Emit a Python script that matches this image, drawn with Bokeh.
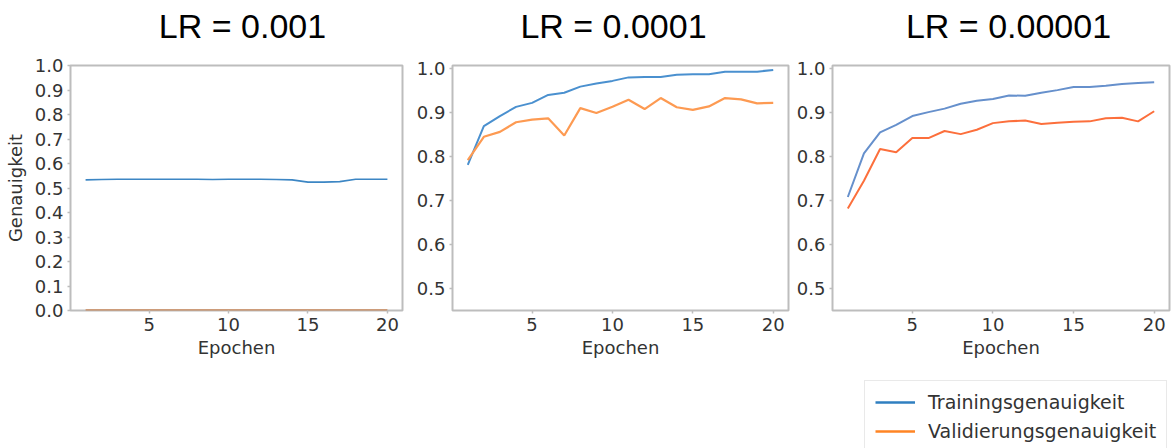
from bokeh.plotting import figure
from bokeh.layouts import row, column
from bokeh.models import Range1d, FixedTicker, PrintfTickFormatter, Legend, LegendItem, Label
from bokeh.embed import file_html
from bokeh.resources import INLINE

# Epochs and accuracy curves for three learning rates
epochs = list(range(1, 21))

train_lr_1e3 = [0.533, 0.535, 0.536, 0.536, 0.536, 0.536, 0.536, 0.536, 0.535, 0.536,
                0.536, 0.536, 0.535, 0.533, 0.524, 0.524, 0.526, 0.536, 0.536, 0.536]
val_lr_1e3 = [0.0] * 20

train_lr_1e4 = [0.781, 0.869, 0.892, 0.913, 0.922, 0.940, 0.945, 0.959, 0.966, 0.972,
                0.980, 0.981, 0.981, 0.986, 0.987, 0.987, 0.993, 0.993, 0.993, 0.997]
val_lr_1e4 = [0.792, 0.845, 0.856, 0.878, 0.884, 0.887, 0.848, 0.910, 0.899, 0.913,
              0.929, 0.908, 0.933, 0.912, 0.906, 0.914, 0.933, 0.930, 0.921, 0.922]

train_lr_1e5 = [0.708, 0.807, 0.855, 0.872, 0.892, 0.901, 0.909, 0.920, 0.927, 0.931,
                0.939, 0.938, 0.945, 0.951, 0.958, 0.958, 0.961, 0.965, 0.967, 0.969]
val_lr_1e5 = [0.682, 0.745, 0.817, 0.810, 0.842, 0.842, 0.858, 0.851, 0.861, 0.876,
              0.880, 0.882, 0.874, 0.877, 0.879, 0.880, 0.887, 0.888, 0.880, 0.903]

titles = ["LR = 0.001", "LR = 0.0001", "LR = 0.00001"]
x_ticks = [5, 10, 15, 20]
y_ticks_full = [0.0, 0.1, 0.2, 0.3, 0.4, 0.5, 0.6, 0.7, 0.8, 0.9, 1.0]
y_ticks_zoom = [0.5, 0.6, 0.7, 0.8, 0.9, 1.0]
legend_labels = ["Trainingsgenauigkeit", "Validierungsgenauigkeit"]

TXT = "#333333"
FRAME = "#bdbdbd"
FONT = "DejaVu Sans"


def blank_strip(width, height):
    s = figure(width=width, height=height, min_border=0, x_axis_type=None, y_axis_type=None,
               x_range=Range1d(0, 1), y_range=Range1d(0, 1),
               output_backend="svg", toolbar_location=None)
    s.outline_line_color = None
    s.xgrid.visible = False
    s.ygrid.visible = False
    return s


def title_strip(text, width, cx):
    t = blank_strip(width, 53)
    t.add_layout(Label(x=cx, y=28, x_units="screen", y_units="screen", text=text,
                       text_align="center", text_baseline="middle",
                       text_font="Liberation Sans", text_font_size="34px",
                       text_color="black"))
    return t


def make_panel(y_lo, y_hi, yticks, width, left, right, with_ylabel):
    p = figure(width=width, height=307, min_border_left=left,
               min_border_right=right, min_border_top=12, min_border_bottom=47,
               x_range=Range1d(0.05, 20.95), y_range=Range1d(y_lo, y_hi),
               output_backend="svg", toolbar_location=None,
               background_fill_color="white", border_fill_color="white")
    p.outline_line_color = FRAME
    p.outline_line_width = 2
    p.xgrid.visible = False
    p.ygrid.visible = False
    for ax in (p.xaxis[0], p.yaxis[0]):
        ax.axis_line_color = None
        ax.major_tick_line_color = FRAME
        ax.major_tick_line_width = 1.5
        ax.major_tick_out = 3
        ax.major_tick_in = 0
        ax.minor_tick_line_color = None
        ax.major_label_text_font = FONT
        ax.major_label_text_font_size = "18px"
        ax.major_label_text_color = TXT
        ax.major_label_standoff = 4
        ax.axis_label_text_font = FONT
        ax.axis_label_text_font_size = "18px"
        ax.axis_label_text_color = TXT
        ax.axis_label_text_font_style = "normal"
    p.xaxis.ticker = FixedTicker(ticks=x_ticks)
    p.yaxis.ticker = FixedTicker(ticks=yticks)
    p.yaxis.formatter = PrintfTickFormatter(format="%.1f")
    p.xaxis.axis_label = "Epochen"
    p.xaxis.axis_label_standoff = 3
    if with_ylabel:
        p.yaxis.axis_label = "Genauigkeit"
        p.yaxis.axis_label_standoff = 6
    return p


p1 = make_panel(0.0, 1.0, y_ticks_full, 412, 70, 10, True)
p1.line(epochs, train_lr_1e3, line_color="#3c86c4", line_width=1.6)
p1.line(epochs, val_lr_1e3, line_color="#c8875a", line_width=2.4)

p2 = make_panel(0.45, 1.007, y_ticks_zoom, 380, 40, 4, False)
p2.line(epochs, train_lr_1e4, line_color="#4a90cf", line_width=2)
p2.line(epochs, val_lr_1e4, line_color="#fd9a52", line_width=2.2)

p3 = make_panel(0.45, 1.007, y_ticks_zoom, 380, 40, 3, False)
p3.line(epochs, train_lr_1e5, line_color="#6690cc", line_width=2)
p3.line(epochs, val_lr_1e5, line_color="#fc6f3c", line_width=2)

# Title strips above each panel; their frames line up with the panels' frames
t1 = title_strip(titles[0], 412, 172)
t2 = title_strip(titles[1], 380, 161)
t3 = title_strip(titles[2], 380, 176)

# Shared legend in its own strip under the last panel
lf = blank_strip(380, 88)
lf.x_range = Range1d(100, 101)
sw_train = lf.line(x=epochs[:1], y=train_lr_1e5[:1], line_color="#2f7fc0", line_width=2.5)
sw_val = lf.line(x=epochs[:1], y=val_lr_1e5[:1], line_color="#ff8524", line_width=2.5)
legend = Legend(items=[LegendItem(label=legend_labels[0], renderers=[sw_train]),
                       LegendItem(label=legend_labels[1], renderers=[sw_val])],
                location=(32, -5), orientation="vertical",
                label_text_font=FONT, label_text_font_size="19px", label_text_color=TXT,
                glyph_width=40, glyph_height=20, label_height=20, label_standoff=13,
                spacing=7, padding=10, margin=0,
                border_line_color="#d4d4d4", border_line_width=1.5,
                background_fill_color="white", background_fill_alpha=1.0)
lf.add_layout(legend, "center")

layout = row(column(t1, p1), column(t2, p2), column(t3, p3, lf))

with open("out.html", "w") as f:
    f.write(file_html(layout, INLINE))
